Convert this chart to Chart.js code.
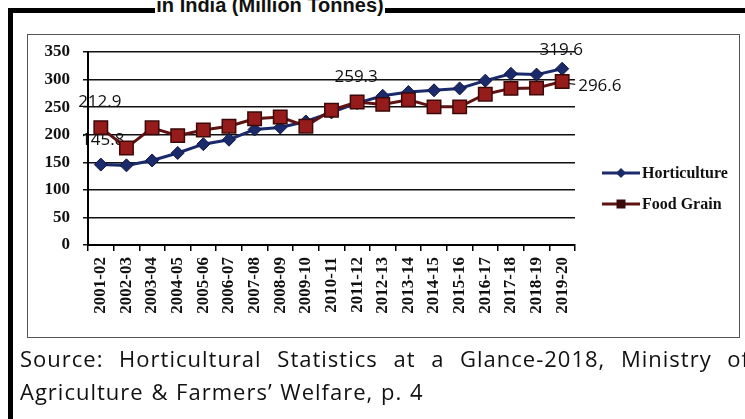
<!DOCTYPE html>
<html>
<head>
<meta charset="utf-8">
<script src="https://cdn.jsdelivr.net/npm/chart.js@4.4.0/dist/chart.umd.min.js"></script>
<style>
  html, body { margin: 0; padding: 0; background: #fff; }
  body { width: 745px; height: 419px; position: relative; overflow: hidden; }
  #frame { position: absolute; left: 8px; top: 8px; width: 800px; height: 500px;
           border-left: 5px solid #000; border-top: 5px solid #000; }
  #title { position: absolute; left: 155px; width: 230px; top: -6px; height: 23px; line-height: 20px;
           background: #fff; text-align: center; white-space: nowrap; color: #111;
           font: bold 20px "Liberation Sans", Arial, sans-serif; }
  #box { position: absolute; left: 27px; top: 34px; width: 713px; height: 304px;
         box-sizing: border-box; border: 1.5px solid #555; }
  #chart { position: absolute; left: 0; top: 0; }
  .src { position: absolute; left: 20px; white-space: nowrap; color: #111;
         font: 22px "Open Sans", Lato, sans-serif; line-height: 24px;
         letter-spacing: 1px; word-spacing: 1px; }
  #src1 { top: 346px; width: 730px; text-align: justify; text-align-last: justify; }
  #src2 { top: 379px; }
</style>
</head>
<body>
<div id="frame"></div>
<div id="title">in India (Million Tonnes)</div>
<div id="box"></div>
<canvas id="chart" width="745" height="419"></canvas>
<div class="src" id="src1">Source: Horticultural Statistics at a Glance-2018, Ministry of</div>
<div class="src" id="src2">Agriculture &amp; Farmers’ Welfare, p. 4</div>
<script>
const years = ['2001-02', '2002-03', '2003-04', '2004-05', '2005-06', '2006-07', '2007-08',
  '2008-09', '2009-10', '2010-11', '2011-12', '2012-13', '2013-14', '2014-15', '2015-16',
  '2016-17', '2017-18', '2018-19', '2019-20'];
const horticulture = [145.8, 144.4, 153.3, 166.9, 182.8, 191.0, 209.5, 213.0, 224.0, 240.5,
  257.3, 270.5, 277.4, 280.5, 284.0, 298.0, 310.5, 309.0, 319.6];
const foodGrain = [212.9, 176.0, 212.5, 198.4, 208.6, 215.5, 229.0, 232.0, 215.5, 244.5,
  259.3, 255.0, 263.5, 250.5, 250.5, 273.5, 284.0, 284.5, 296.6];
const yTicks = [0, 50, 100, 150, 200, 250, 300, 350];

const navy = '#1b2a6b';
const maroon = '#5e1212';
const serif = '"Liberation Serif", "Times New Roman", serif';

// value callouts: dataset, point, offset from the point
const callouts = [
  { set: 1, i: 0, dx: -1, dy: -25, align: 'center' },
  { set: 0, i: 0, dx: 2, dy: -24, align: 'center' },
  { set: 1, i: 10, dx: -1, dy: -25, align: 'center' },
  { set: 0, i: 18, dx: -1, dy: -19, align: 'center' },
  { set: 1, i: 18, dx: 16, dy: 5, align: 'left', leader: true }
];

const valueLabels = {
  id: 'valueLabels',
  beforeDatasetsDraw(chart) {
    const ctx = chart.ctx;
    ctx.save();
    ctx.font = '17px "Open Sans", sans-serif';
    ctx.fillStyle = '#111';
    ctx.textBaseline = 'middle';
    callouts.forEach(c => {
      const pt = chart.getDatasetMeta(c.set).data[c.i];
      const v = chart.data.datasets[c.set].data[c.i];
      const x = pt.x + c.dx, y = pt.y + c.dy;
      ctx.textAlign = c.align;
      ctx.fillText(v.toFixed(1), x, y);
      if (c.leader) {
        ctx.strokeStyle = '#222';
        ctx.lineWidth = 1.2;
        ctx.beginPath();
        ctx.moveTo(pt.x + 6, pt.y + 2);
        ctx.lineTo(x - 3, y - 2);
        ctx.stroke();
      }
    });
    ctx.restore();
  }
};

// legend drawn as line + marker like a spreadsheet chart
const lineLegend = {
  id: 'lineLegend',
  afterDraw(chart) {
    const ctx = chart.ctx;
    const rows = [
      { text: 'Horticulture', y: 173, color: navy, marker: 'diamond' },
      { text: 'Food Grain', y: 204, color: maroon, marker: 'square' }
    ];
    ctx.save();
    rows.forEach(r => {
      ctx.strokeStyle = r.color;
      ctx.lineWidth = 3;
      ctx.beginPath();
      ctx.moveTo(602, r.y);
      ctx.lineTo(640, r.y);
      ctx.stroke();
      ctx.beginPath();
      if (r.marker === 'diamond') {
        ctx.fillStyle = navy;
        ctx.moveTo(621, r.y - 5); ctx.lineTo(626, r.y); ctx.lineTo(621, r.y + 5); ctx.lineTo(616, r.y);
        ctx.closePath();
        ctx.fill();
      } else {
        ctx.fillStyle = '#3a0a0a';
        ctx.rect(616.5, r.y - 4.5, 9, 9);
        ctx.fill();
      }
      ctx.fillStyle = '#111';
      ctx.font = 'bold 16px ' + serif;
      ctx.textAlign = 'left';
      ctx.textBaseline = 'middle';
      ctx.fillText(r.text, 642, r.y + 1);
    });
    ctx.restore();
  }
};

new Chart(document.getElementById('chart'), {
  type: 'line',
  data: {
    labels: years,
    datasets: [
      {
        label: 'Horticulture',
        data: horticulture,
        order: 1,
        borderColor: navy,
        borderWidth: 3,
        pointStyle: 'rectRot',
        pointRadius: 6.5,
        pointBackgroundColor: navy,
        pointBorderColor: '#0e1640',
        pointBorderWidth: 1,
        tension: 0
      },
      {
        label: 'Food Grain',
        data: foodGrain,
        order: 0,
        borderColor: maroon,
        borderWidth: 3,
        pointStyle: 'rect',
        pointRadius: 9.5,
        pointBackgroundColor: '#961c1c',
        pointBorderColor: '#3d0808',
        pointBorderWidth: 1.5,
        tension: 0
      }
    ]
  },
  options: {
    responsive: false,
    animation: false,
    devicePixelRatio: 1,
    layout: { padding: { top: 52, right: 170, left: 0, bottom: 0 } },
    plugins: { legend: { display: false }, tooltip: { enabled: false } },
    scales: {
      x: {
        offset: true,
        grid: { offset: true, drawOnChartArea: false, color: '#000', lineWidth: 1.5, tickLength: 6 },
        border: { color: '#000', width: 2 },
        ticks: {
          autoSkip: false, minRotation: 90, maxRotation: 90, padding: 6, color: '#111',
          font: { family: serif, size: 17, weight: 'bold' }
        },
        afterFit(s) { s.height = 419 - 245; }
      },
      y: {
        min: 0, max: 350,
        afterBuildTicks(s) { s.ticks = yTicks.map(v => ({ value: v })); },
        grid: { color: '#111', lineWidth: 1.5, tickLength: 5 },
        border: { color: '#000', width: 2 },
        ticks: { padding: 13, color: '#111', font: { family: serif, size: 17, weight: 'bold' } },
        afterFit(s) { s.width = 88; }
      }
    }
  },
  plugins: [valueLabels, lineLegend]
});
</script>
</body>
</html>
